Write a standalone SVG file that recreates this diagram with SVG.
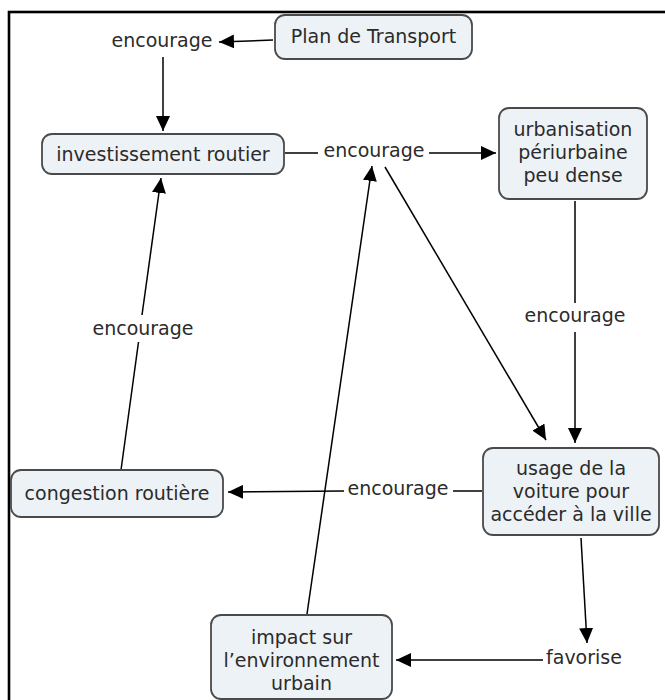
<svg xmlns="http://www.w3.org/2000/svg" width="665" height="700" viewBox="0 0 665 700">
  <style>
    .node rect { fill: #edf2f6; stroke: #4a4a4a; stroke-width: 1.8; }
    text { font-family: "DejaVu Sans", Verdana, sans-serif; font-size: 19px; fill: #2b2b2b; text-anchor: middle; }
    .conn line { stroke: #000; stroke-width: 1.5; fill: none; }
    .arrow { marker-end: url(#head); }
  </style>
  <defs>
    <marker id="head" markerUnits="userSpaceOnUse" markerWidth="16" markerHeight="14" refX="15" refY="7" orient="auto">
      <path d="M0,0 L15,7 L0,14 Z" fill="#000"/>
    </marker>
  </defs>

  <rect x="0" y="0" width="665" height="700" fill="#fff"/>
  <!-- outer frame -->
  <rect x="9" y="12" width="680" height="720" fill="none" stroke="#000" stroke-width="2.6"/>

  <!-- connectors -->
  <g id="connectors" class="conn">
    <line class="arrow" x1="273" y1="40" x2="219" y2="42"/>
    <line class="arrow" x1="163" y1="57" x2="163" y2="131"/>
    <line x1="285" y1="153" x2="318" y2="153"/>
    <line class="arrow" x1="429" y1="153" x2="496" y2="153"/>
    <line class="arrow" x1="385" y1="167" x2="546" y2="440"/>
    <line x1="575" y1="201" x2="575" y2="303"/>
    <line class="arrow" x1="575" y1="332" x2="575" y2="443"/>
    <line x1="482" y1="491" x2="453" y2="491"/>
    <line class="arrow" x1="344" y1="491" x2="228" y2="492"/>
    <line x1="121" y1="470" x2="138.5" y2="342"/>
    <line class="arrow" x1="142" y1="315" x2="161" y2="178"/>
    <line class="arrow" x1="581" y1="538" x2="587" y2="643"/>
    <line class="arrow" x1="543" y1="660" x2="396" y2="660"/>
    <line class="arrow" x1="307" y1="614" x2="372" y2="166"/>
  </g>

  <!-- concepts -->
  <g id="plan-transport" class="node">
    <rect x="275" y="15" width="197" height="44" rx="10"/>
    <text x="373.5" y="43">Plan de Transport</text>
  </g>
  <g id="investissement-routier" class="node">
    <rect x="42" y="134" width="242" height="40" rx="10"/>
    <text x="163" y="161">investissement routier</text>
  </g>
  <g id="urbanisation" class="node">
    <rect x="499" y="108" width="148" height="91" rx="10"/>
    <text x="573" y="136">urbanisation</text>
    <text x="573" y="159">périurbaine</text>
    <text x="573" y="182">peu dense</text>
  </g>
  <g id="usage-voiture" class="node">
    <rect x="483" y="448" width="176" height="87" rx="10"/>
    <text x="571" y="475">usage de la</text>
    <text x="571" y="498">voiture pour</text>
    <text x="571" y="521">accéder à la ville</text>
  </g>
  <g id="congestion" class="node">
    <rect x="11" y="470" width="212" height="47" rx="10"/>
    <text x="117" y="500">congestion routière</text>
  </g>
  <g id="impact" class="node">
    <rect x="211" y="615" width="181" height="84" rx="10"/>
    <text x="301.5" y="644">impact sur</text>
    <text x="301.5" y="667">l’environnement</text>
    <text x="301.5" y="690">urbain</text>
  </g>

  <!-- linking phrases -->
  <g id="lbl-encourage-1"><text x="162" y="47">encourage</text></g>
  <g id="lbl-encourage-2"><text x="374" y="157">encourage</text></g>
  <g id="lbl-encourage-3"><text x="575" y="322">encourage</text></g>
  <g id="lbl-encourage-4"><text x="143" y="335">encourage</text></g>
  <g id="lbl-encourage-5"><text x="398" y="495">encourage</text></g>
  <g id="lbl-favorise"><text x="584" y="664">favorise</text></g>
</svg>
